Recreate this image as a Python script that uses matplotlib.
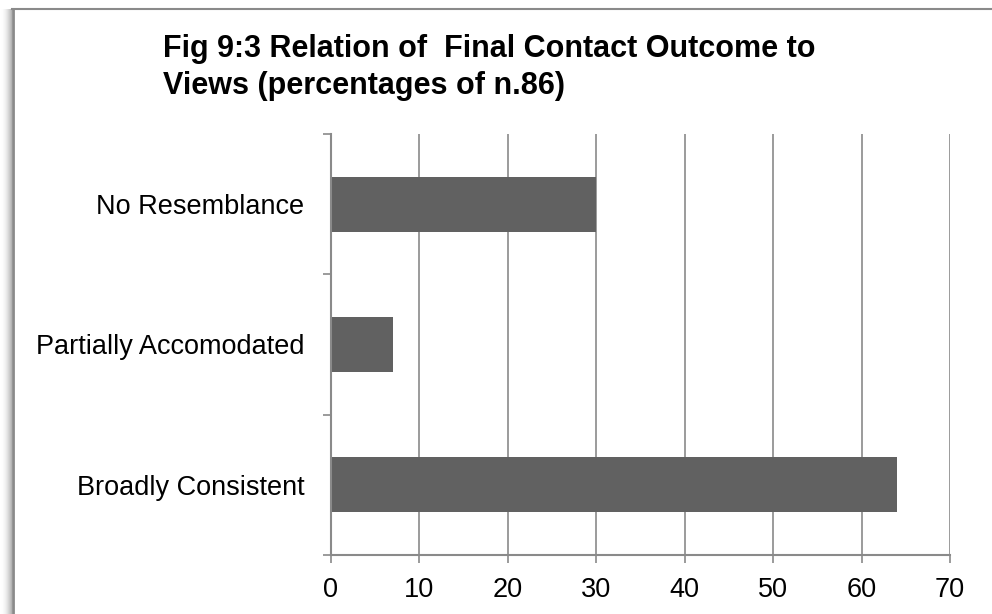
import matplotlib
matplotlib.use("Agg")
import matplotlib.pyplot as plt
import numpy as np
from matplotlib.lines import Line2D
from matplotlib.patches import Rectangle

plt.rcParams['font.family'] = ['Liberation Sans', 'DejaVu Sans']

categories = ["Broadly Consistent", "Partially Accomodated", "No Resemblance"]
values = [64, 7, 30]
xticks = [0, 10, 20, 30, 40, 50, 60, 70]
title = "Fig 9:3 Relation of  Final Contact Outcome to\nViews (percentages of n.86)"

W, H = 992, 614
fig = plt.figure(figsize=(W / 100, H / 100), dpi=100)

# outer frame (top and left edges with shadow)
for i in range(12):
    a = 0.35 * (i / 12) ** 2
    fig.add_artist(Rectangle(((i) / W, 0), 1 / W, (H - 9) / H, transform=fig.transFigure,
                             facecolor=(0, 0, 0, a), edgecolor='none', zorder=0))
fig.add_artist(Line2D([12.5 / W, 12.5 / W], [0, 1 - 8.5 / H], transform=fig.transFigure,
                      color='#8a8a8a', lw=2.0))
fig.add_artist(Line2D([12 / W, 1], [1 - 8.5 / H, 1 - 8.5 / H], transform=fig.transFigure,
                      color='#8a8a8a', lw=1.5))

ax = fig.add_axes([331 / W, 59 / H, (950 - 331) / W, (555 - 134) / H])
y = np.arange(len(categories))
ax.barh(y, values, height=0.39, color='#616161', zorder=3)

ax.set_xlim(0, 70)
ax.set_ylim(-0.5, len(categories) - 0.5)
ax.set_xticks(xticks)
ax.set_xticklabels([str(t) for t in xticks])
ax.set_yticks(y)
ax.set_yticklabels(categories)
ax.set_yticks(np.arange(-0.5, len(categories)), minor=True)

gc = '#8a8a8a'
ax.grid(axis='x', color=gc, lw=1.2, zorder=0)
for s in ['top', 'right']:
    ax.spines[s].set_visible(False)
for s in ['left', 'bottom']:
    ax.spines[s].set_color(gc)
    ax.spines[s].set_linewidth(1.5)
    ax.spines[s].set_zorder(4)

ax.tick_params(axis='y', which='major', length=0, labelsize=19.5, pad=19)
ax.tick_params(axis='y', which='minor', length=6, width=1.2, color=gc)
ax.tick_params(axis='x', length=6, width=1.2, color=gc, labelsize=19.5, pad=10)

fig.text(163 / W, 1 - 34 / H, title, ha='left', va='top', fontsize=22,
         fontweight='bold', linespacing=1.3)

fig.savefig("out.png", dpi=100)
